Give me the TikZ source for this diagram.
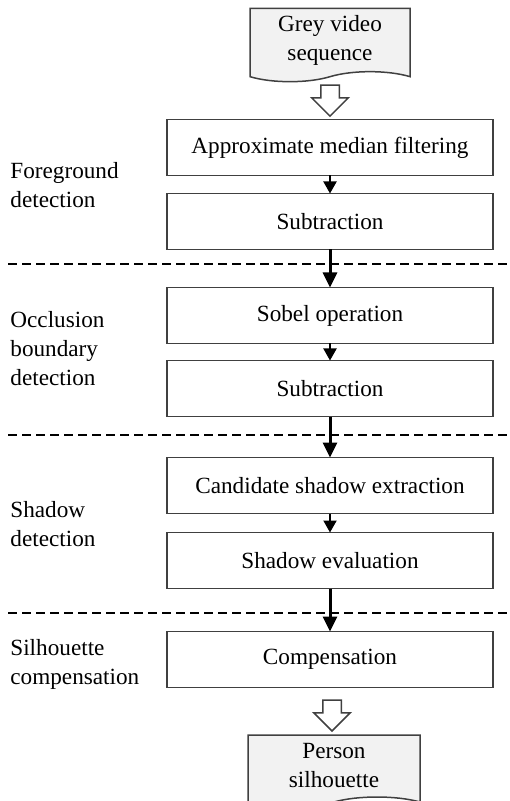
\documentclass[tikz,border=0pt]{standalone}
\usepackage{fontspec}
\setmainfont{Liberation Serif}
\usetikzlibrary{arrows.meta,positioning,shapes.symbols,shapes.arrows,calc}

\begin{document}
\begin{tikzpicture}[x=0.5pt,y=-0.5pt,
  font=\fontsize{11.6pt}{14.5pt}\selectfont,
  box node/.style={rectangle,draw=black!75,line width=0.75pt,
    minimum width=163pt,minimum height=28pt,inner sep=0pt,outer sep=0pt},
  doc node/.style={tape,tape bend top=none,draw=black!75,fill=gray!10,
    line width=0.75pt,align=center,minimum width=80pt,minimum height=36pt},
  label node/.style={anchor=west,align=left,inner sep=0pt},
  hollow node/.style={single arrow,draw=black!75,fill=white,line width=0.75pt,
    shape border rotate=270,minimum height=15.5pt,
    single arrow head extend=4.5pt,inner sep=4.25pt},
  flow arrow/.style={-{Triangle[length=6pt,width=6.5pt]},line width=1pt},
  cross arrow/.style={-{Triangle[length=7.5pt,width=7pt]},line width=1.5pt},
  sep line/.style={dash pattern=on 4.5pt off 2.5pt,line width=1.25pt}]

  \useasboundingbox (0,0) rectangle (509,801);

  \node[doc node] (gin) at (330,40) {Grey video\\sequence};
  \node[box node] (b1) at (330,147.5) {Approximate median filtering};
  \node[box node] (b2) [below=9pt of b1] {Subtraction};
  \node[box node] (b3) [below=19pt of b2] {Sobel operation};
  \node[box node] (b4) [below=8.5pt of b3] {Subtraction};
  \node[box node] (b5) [below=20.5pt of b4] {Candidate shadow extraction};
  \node[box node] (b6) [below=9.5pt of b5] {Shadow evaluation};
  \node[box node] (b7) [below=21.5pt of b6] {Compensation};
  \node[doc node,minimum width=86pt] (pout) at (334,766) {Person\\silhouette};

  \node[hollow node] (h1) at ($(gin.south)!0.5!(b1.north)$) {};
  \node[hollow node] (h2) at ($(b7.south)!0.5!(pout.north)$) {};

  \node[label node] (fg) at (10,185) {Foreground\\detection};
  \node[label node] (ob) at (10,349) {Occlusion\\boundary\\detection};
  \node[label node] (sd) at (10,524) {Shadow\\detection};
  \node[label node] (sc) at (10,664) {Silhouette\\compensation};

  \draw[sep line] (8,264) -- (509,264);
  \draw[sep line] (8,435) -- (509,435);
  \draw[sep line] (8,613) -- (509,613);

  \draw[flow arrow] (b1) -- (b2);
  \draw[cross arrow] (b2) -- (b3);
  \draw[flow arrow] (b3) -- (b4);
  \draw[cross arrow] (b4) -- (b5);
  \draw[flow arrow] (b5) -- (b6);
  \draw[cross arrow] (b6) -- (b7);
\end{tikzpicture}
\end{document}
